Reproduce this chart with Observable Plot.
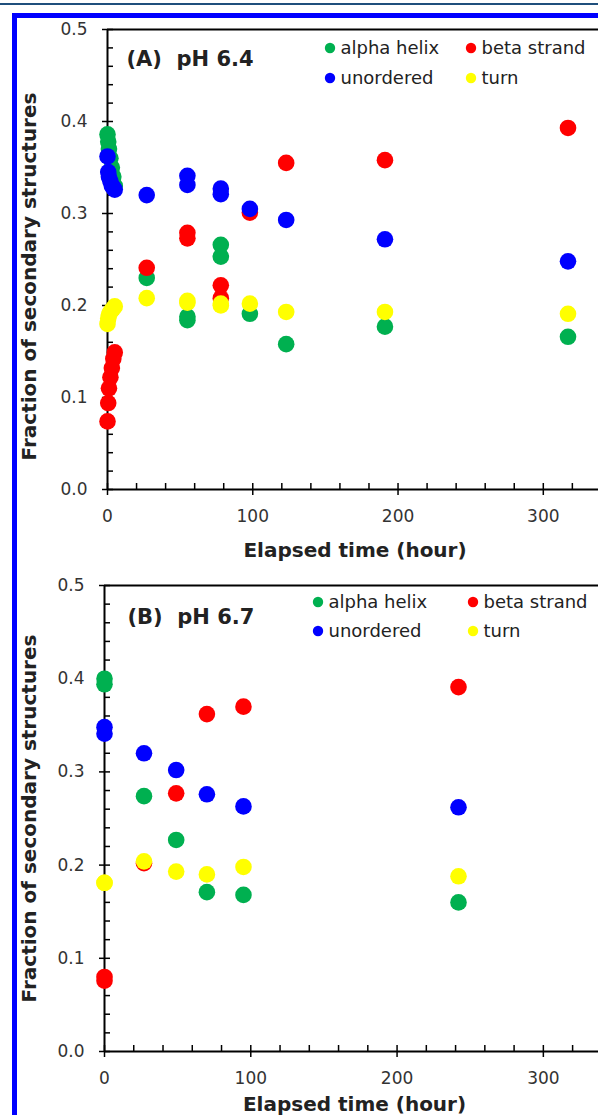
<!DOCTYPE html>
<html><head><meta charset="utf-8">
<script src="https://cdn.jsdelivr.net/npm/d3@7"></script>
<script src="https://cdn.jsdelivr.net/npm/@observablehq/plot@0.6"></script>
<style>
html,body{margin:0;padding:0;background:#fff;}
#page{position:relative;width:598px;height:1115px;overflow:hidden;background:#fff;}
.deco{position:absolute;}
.panel{position:absolute;left:0;}
</style></head><body>
<div id="page">
 <div class="deco" style="left:0;top:3px;width:598px;height:2px;background:#1f4f7c"></div>
 <div class="deco" style="left:12px;top:13px;width:586px;height:5px;background:#0000ff"></div>
 <div class="deco" style="left:12px;top:13px;width:5px;height:1102px;background:#0000ff"></div>
</div>
<script>
// ---- data ----
const seriesNames = ["alpha helix", "beta strand", "unordered", "turn"];
const seriesColors = ["#00b050", "#ff0000", "#0000ff", "#ffff00"];
const yTicks = [0, 0.1, 0.2, 0.3, 0.4, 0.5];
const xTicks = [0, 100, 200, 300];
const yTitle = "Fraction of secondary structures";
const xTitle = "Elapsed time (hour)";

// Panel A: pH 6.4
const labelA = "(A)\u00a0 pH 6.4";
const timesA = [0, 0.5, 1, 2, 3, 4, 5, 27, 55, 55, 78, 78, 98, 123, 191, 317];
const alphaA = [0.386, 0.378, 0.370, 0.360, 0.350, 0.340, 0.330, 0.230, 0.188, 0.184, 0.266, 0.253, 0.191, 0.158, 0.177, 0.166];
const betaA = [0.074, 0.094, 0.110, 0.122, 0.132, 0.142, 0.149, 0.241, 0.279, 0.273, 0.222, 0.208, 0.301, 0.355, 0.358, 0.393];
const unorderedA = [0.362, 0.345, 0.340, 0.335, 0.330, 0.328, 0.326, 0.320, 0.341, 0.331, 0.327, 0.321, 0.305, 0.293, 0.272, 0.248];
const turnA = [0.180, 0.186, 0.190, 0.193, 0.195, 0.197, 0.199, 0.208, 0.205, 0.203, 0.202, 0.200, 0.202, 0.193, 0.193, 0.191];

// Panel B: pH 6.7
const labelB = "(B)\u00a0 pH 6.7";
const timesB = [0, 0, 27, 49, 70, 95, 242];
const alphaB = [0.400, 0.394, 0.274, 0.227, 0.171, 0.168, 0.160];
const betaB = [0.080, 0.076, 0.202, 0.277, 0.362, 0.370, 0.391];
const unorderedB = [0.348, 0.341, 0.320, 0.302, 0.276, 0.263, 0.262];
const turnB = [0.181, 0.181, 0.204, 0.193, 0.190, 0.198, 0.188];

// ---- layout ----
const page = document.getElementById("page");

function makePanel(cfg) {
  const rows = seriesNames.flatMap((s, i) =>
    cfg.times.map((t, j) => ({series: s, time: t, value: cfg.values[i][j]})));
  const xMinor = d3.range(0, cfg.xMax, 20);
  const yMinor = d3.range(0, 0.5001, 0.02);
  const chart = Plot.plot({
    width: 598, height: cfg.height,
    marginTop: cfg.mt, marginBottom: cfg.mb, marginLeft: cfg.ml, marginRight: 0,
    x: {domain: [0, cfg.xMax]},
    y: {domain: [0, 0.5]},
    color: {domain: seriesNames, range: seriesColors},
    style: {fontFamily: "'DejaVu Sans', sans-serif", fontSize: "17px", background: "transparent", overflow: "visible", color: "#222"},
    marks: [
      Plot.ruleX([0], {stroke: "black", strokeWidth: 2}),
      Plot.ruleY([0, 0.5], {stroke: "black", strokeWidth: 2}),
      Plot.axisY(yTicks, {tickSize: 5, tickPadding: 15, tickFormat: d3.format(".1f"), stroke: "black", strokeWidth: 1.5, fill: "#333", label: null}),
      Plot.axisY(yMinor, {tickSize: -6, stroke: "black", strokeWidth: 1.5, fill: "none", label: null}),
      Plot.axisX(xTicks, {tickSize: 6, tickPadding: 14, tickFormat: d3.format("d"), stroke: "black", strokeWidth: 1.5, fill: "#333", label: null}),
      Plot.axisX(xMinor, {tickSize: -6, stroke: "black", strokeWidth: 1.5, fill: "none", label: null}),
      Plot.dot(rows, {x: "time", y: "value", fill: "series", r: 8.3}),
      Plot.text([yTitle], {text: d => d, frameAnchor: "left", textAnchor: "middle", rotate: -90, lineAnchor: "bottom", dx: cfg.yTitleDx, dy: cfg.yTitleDy, fontWeight: "bold", fontSize: 20, fill: "#222"}),
      Plot.text([xTitle], {text: d => d, frameAnchor: "bottom", textAnchor: "middle", lineAnchor: "bottom", dx: cfg.xTitleDx, dy: cfg.xTitleDy, fontWeight: "bold", fontSize: 20, fill: "#222"}),
      Plot.text([cfg.label], {text: d => d, frameAnchor: "top-left", textAnchor: "start", lineAnchor: "bottom", dx: cfg.labelDx, dy: cfg.labelDy, fontWeight: "bold", fontSize: 21, fill: "#222"})
    ]
  });
  const wrap = document.createElement("div");
  wrap.className = "panel";
  wrap.style.top = cfg.top + "px";
  wrap.appendChild(chart);
  page.appendChild(wrap);

  // legend
  const leg = d3.select(page).append("svg")
    .attr("width", 598).attr("height", cfg.height)
    .style("position", "absolute").style("left", "0px").style("top", cfg.top + "px")
    .style("overflow", "visible")
    .attr("font-family", "'DejaVu Sans', sans-serif").attr("font-size", 18);
  seriesNames.forEach((s, i) => {
    const col = i % 2, row = Math.floor(i / 2);
    const cx = cfg.legX[col], cy = cfg.legY[row];
    leg.append("circle").attr("cx", cx).attr("cy", cy).attr("r", 5.2).attr("fill", seriesColors[i]);
    leg.append("text").attr("x", cx + 10.5).attr("y", cy + 5.8).attr("fill", "#222").text(s);
  });
}

makePanel({
  times: timesA, values: [alphaA, betaA, unorderedA, turnA], label: labelA,
  top: 0, height: 565, mt: 29, mb: 76, ml: 107, xMax: 338,
  yTitleDx: -72, yTitleDy: 17, xTitleDx: 2, xTitleDy: 67, labelDx: 19, labelDy: 36,
  legX: [330, 471], legY: [48, 78]
});
makePanel({
  times: timesB, values: [alphaB, betaB, unorderedB, turnB], label: labelB,
  top: 560, height: 555, mt: 25, mb: 64, ml: 104, xMax: 337.7,
  yTitleDx: -69, yTitleDy: 0, xTitleDx: 3, xTitleDy: 59, labelDx: 23, labelDy: 38,
  legX: [318, 473], legY: [42, 71]
});
</script>
</body></html>
